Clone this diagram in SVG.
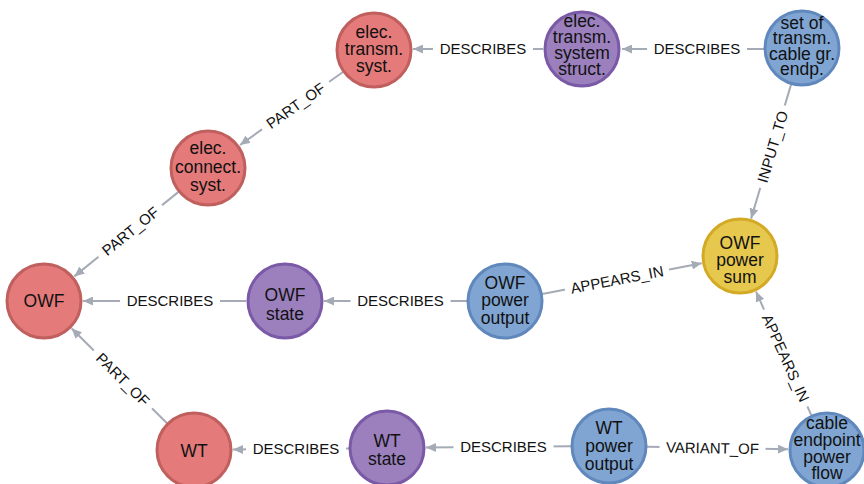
<svg xmlns="http://www.w3.org/2000/svg" width="864" height="484" viewBox="0 0 864 484">
<defs>
<marker id="arr" markerUnits="userSpaceOnUse" markerWidth="11" markerHeight="9" refX="10" refY="4.5" orient="auto">
<path d="M0,0 L10,4.5 L0,9 z" fill="#A5ABB6"/>
</marker>
<style>
.e{stroke:#A5ABB6;stroke-width:2;fill:none;marker-end:url(#arr)}
.lb rect{fill:#fff}
.lb text{font-family:"Liberation Sans",Arial,sans-serif;font-size:15px;fill:#111;text-anchor:middle}
.n text{font-family:"Liberation Sans",Arial,sans-serif;font-size:17.5px;fill:#111;text-anchor:middle}
.red circle{fill:#E47A7A;stroke:#BF605F;stroke-width:3}
.pur circle{fill:#9B80BD;stroke:#7A59A6;stroke-width:3}
.blu circle{fill:#80A5D2;stroke:#6088BC;stroke-width:3}
.yel circle{fill:#E6C84F;stroke:#D3AA26;stroke-width:3}
</style>
</defs>
<rect width="864" height="484" fill="#fff"/>
<g id="connectors">
<path class="e" d="M764,49 L622,49"/>
<path class="e" d="M543,49 L413,49"/>
<path class="e" d="M343,72 L240,145"/>
<path class="e" d="M178.5,191.9 L74.3,276.4"/>
<path class="e" d="M246,301 L83,301"/>
<path class="e" d="M467,301 L324,301"/>
<path class="e" d="M542.3,293.9 L701.7,263.3"/>
<path class="e" d="M791.1,84.4 L751.1,218.6"/>
<path class="e" d="M167,423.2 L71.7,328.5"/>
<path class="e" d="M349,448.4 L233,449.6"/>
<path class="e" d="M571,446.3 L426,447.6"/>
<path class="e" d="M647,446.7 L788,449.3"/>
<path class="e" d="M811.4,415.3 L756,291.6"/>
<g class="lb" transform="translate(697,49)"><rect x="-50" y="-9" width="100" height="18"/><text y="5.4">DESCRIBES</text></g>
<g class="lb" transform="translate(483,49)"><rect x="-50" y="-9" width="100" height="18"/><text y="5.4">DESCRIBES</text></g>
<g class="lb" transform="translate(295.6,105.6) rotate(-35.3)"><rect x="-41" y="-9" width="82" height="18"/><text y="5.4">PART_OF</text></g>
<g class="lb" transform="translate(130.3,231) rotate(-39)"><rect x="-41" y="-9" width="82" height="18"/><text y="5.4">PART_OF</text></g>
<g class="lb" transform="translate(170,301)"><rect x="-50" y="-9" width="100" height="18"/><text y="5.4">DESCRIBES</text></g>
<g class="lb" transform="translate(400.5,301)"><rect x="-50" y="-9" width="100" height="18"/><text y="5.4">DESCRIBES</text></g>
<g class="lb" transform="translate(617,279.5) rotate(-10.84)"><rect x="-53" y="-9" width="106" height="18"/><text y="5.4">APPEARS_IN</text></g>
<g class="lb" transform="translate(772.5,146.7) rotate(-73.4)"><rect x="-43" y="-9" width="86" height="18"/><text y="5.4">INPUT_TO</text></g>
<g class="lb" transform="translate(122.9,379.4) rotate(44.8)"><rect x="-41" y="-9" width="82" height="18"/><text y="5.4">PART_OF</text></g>
<g class="lb" transform="translate(296,449)"><rect x="-50" y="-9" width="100" height="18"/><text y="5.4">DESCRIBES</text></g>
<g class="lb" transform="translate(503.5,447)"><rect x="-50" y="-9" width="100" height="18"/><text y="5.4">DESCRIBES</text></g>
<g class="lb" transform="translate(712.5,448) rotate(1)"><rect x="-53" y="-9" width="106" height="18"/><text y="5.4">VARIANT_OF</text></g>
<g class="lb" transform="translate(785.8,358) rotate(65.8)"><rect x="-53" y="-9" width="106" height="18"/><text y="5.4">APPEARS_IN</text></g>
</g>
<g id="n-elec-transm-syst" class="n red"><circle cx="374" cy="50" r="37"/><text><tspan x="374" y="38">elec.</tspan><tspan x="374" y="55">transm.</tspan><tspan x="374" y="72">syst.</tspan></text></g>
<g id="n-elec-transm-system-struct" class="n pur"><circle cx="582" cy="49" r="37"/><text><tspan x="582" y="27">elec.</tspan><tspan x="582" y="43">transm.</tspan><tspan x="582" y="59">system</tspan><tspan x="582" y="75">struct.</tspan></text></g>
<g id="n-set-of-transm" class="n blu"><circle cx="802" cy="48" r="37"/><text><tspan x="802" y="29">set of</tspan><tspan x="802" y="44">transm.</tspan><tspan x="802" y="59.5">cable gr.</tspan><tspan x="802" y="74.5">endp.</tspan></text></g>
<g id="n-elec-connect-syst" class="n red"><circle cx="208" cy="168" r="37"/><text><tspan x="208" y="154">elec.</tspan><tspan x="208" y="173">connect.</tspan><tspan x="208" y="191">syst.</tspan></text></g>
<g id="n-owf" class="n red"><circle cx="44" cy="301" r="37"/><text x="44" y="307">OWF</text></g>
<g id="n-owf-state" class="n pur"><circle cx="285" cy="301" r="37"/><text><tspan x="285" y="301">OWF</tspan><tspan x="285" y="320">state</tspan></text></g>
<g id="n-owf-power-output" class="n blu"><circle cx="505" cy="301" r="37"/><text><tspan x="505" y="289">OWF</tspan><tspan x="505" y="306">power</tspan><tspan x="505" y="324">output</tspan></text></g>
<g id="n-owf-power-sum" class="n yel"><circle cx="740" cy="256" r="37"/><text><tspan x="740" y="249">OWF</tspan><tspan x="740" y="266">power</tspan><tspan x="740" y="283">sum</tspan></text></g>
<g id="n-wt" class="n red"><circle cx="194" cy="450" r="37"/><text x="194" y="457">WT</text></g>
<g id="n-wt-state" class="n pur"><circle cx="387" cy="448" r="37"/><text><tspan x="387" y="447">WT</tspan><tspan x="387" y="465">state</tspan></text></g>
<g id="n-wt-power-output" class="n blu"><circle cx="609" cy="446" r="37"/><text><tspan x="609" y="434">WT</tspan><tspan x="609" y="452">power</tspan><tspan x="609" y="470">output</tspan></text></g>
<g id="n-cable-endpoint-power-flow" class="n blu"><circle cx="827" cy="450" r="37"/><text><tspan x="827" y="429">cable</tspan><tspan x="827" y="446">endpoint</tspan><tspan x="827" y="462.5">power</tspan><tspan x="827" y="479">flow</tspan></text></g>
</svg>
